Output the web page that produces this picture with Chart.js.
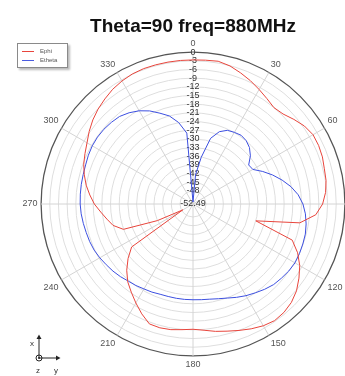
<!DOCTYPE html>
<html>
<head>
<meta charset="utf-8">
<script src="https://cdn.jsdelivr.net/npm/chart.js@4/dist/chart.umd.min.js"></script>
<style>
  body { margin: 0; background: #fff; overflow: hidden; }
  #wrap { position: relative; width: 345px; height: 376px; overflow: hidden; }
  #c { position: absolute; left: 0; top: 0; }
  #legend {
    position: absolute; left: 17px; top: 43px; width: 49px; height: 23px;
    border: 1px solid #8a8a8a; background: #fff; box-shadow: 2px 2px 2px #bbb;
    font: 6px "Liberation Sans", Arial, sans-serif; color: #555;
  }
  #legend div { position: relative; height: 8px; line-height: 8px; padding-left: 22px; margin-top: 3px; }
  #legend div + div { margin-top: 1px; }
  #legend span { position: absolute; left: 4px; top: 4px; width: 12px; height: 1px; }
  #axes { position: absolute; left: 26px; top: 333px; }
</style>
</head>
<body>
<div id="wrap">
  <canvas id="c" width="386" height="376"></canvas>
  <div id="legend">
    <div><span style="background:#e8453c"></span>Ephi</div>
    <div><span style="background:#4a5be0"></span>Etheta</div>
  </div>
  <svg id="axes" width="42" height="42" font-family="Liberation Sans, Arial, sans-serif" font-size="8" fill="#333">
    <line x1="13" y1="25" x2="13" y2="5" stroke="#222" stroke-width="1"/>
    <path d="M10.5 6 L13 1.5 L15.5 6 Z" fill="#222"/>
    <line x1="13" y1="25" x2="31" y2="25" stroke="#222" stroke-width="1"/>
    <path d="M30 22.5 L34.5 25 L30 27.5 Z" fill="#222"/>
    <circle cx="13" cy="25" r="3" fill="none" stroke="#222" stroke-width="1"/>
    <circle cx="13" cy="25" r="1" fill="#222"/>
    <text x="4" y="13">x</text>
    <text x="10" y="40">z</text>
    <text x="28" y="40">y</text>
  </svg>
</div>
<script>
// angle in degrees, 0 at top, clockwise
const angles = [0,5,10,15,20,25,30,35,40,45,50,55,60,65,70,75,80,85,90,95,100,105,110,115,
  120,125,130,135,140,145,150,155,160,165,170,175,180,185,190,195,200,205,210,215,220,225,230,235,
  240,245,250,255,260,265,270,275,280,285,290,295,300,305,310,315,320,325,330,335,340,345,350,355];

// gain in dB
const ephi = [-2.7,-2.6,-2.4,-3.1,-4.3,-5.5,-6.8,-8.0,-9.0,-8.5,-7.0,-5.5,-4.6,-4.6,-4.9,-5.5,-5.8,-6.5,
  -7.7,-9.9,-15.0,-30.0,-16.0,-12.6,-9.9,-7.8,-5.8,-4.4,-3.6,-3.3,-3.9,-4.9,-6.0,-7.0,-7.8,-8.7,
  -9.2,-8.9,-8.4,-8.2,-8.4,-10.6,-13.0,-15.3,-17.4,-20.1,-23.2,-26.6,-48.4,-38.9,-26.9,-23.9,-22.3,-20.5,
  -18.4,-16.7,-15.0,-13.6,-12.3,-11.3,-10.2,-8.7,-7.3,-6.1,-5.1,-4.1,-3.4,-2.9,-2.7,-2.7,-2.7,-2.7];

const etheta = [-51.8,-42.3,-36.1,-29.0,-25.9,-24.4,-23.9,-23.5,-23.9,-24.9,-26.6,-29.0,-28.6,-25.9,-23.2,-20.6,-18.1,-16.0,
  -14.5,-13.5,-12.8,-12.3,-12.1,-11.9,-11.8,-12.1,-12.6,-13.1,-14.0,-15.0,-15.9,-16.9,-17.9,-18.6,-19.1,-19.3,
  -19.4,-19.4,-19.4,-19.4,-19.3,-18.9,-18.6,-18.1,-17.7,-17.0,-16.4,-15.9,-15.3,-14.8,-14.5,-14.3,-14.0,-13.7,
  -13.5,-13.4,-13.3,-13.2,-13.0,-12.6,-12.3,-12.2,-12.3,-12.6,-13.0,-14.0,-15.3,-17.0,-19.1,-21.0,-23.9,-27.9];

const rMin = -52.49;
const rMax = 0;
const rStep = 3;

new Chart(document.getElementById('c'), {
  type: 'radar',
  data: {
    labels: angles,
    datasets: [{
      label: 'Ephi',
      data: ephi,
      borderColor: '#e8453c',
      borderWidth: 1,
      pointRadius: 0,
      fill: false
    }, {
      label: 'Etheta',
      data: etheta,
      borderColor: '#3c4fe0',
      borderWidth: 1,
      pointRadius: 0,
      fill: false
    }]
  },
  options: {
    responsive: false,
    animation: false,
    layout: { padding: { top: 7, bottom: 5, left: 0, right: 0 } },
    plugins: {
      legend: { display: false },
      tooltip: { enabled: false },
      title: {
        display: true,
        text: 'Theta=90 freq=880MHz',
        color: '#111',
        font: { family: '"Liberation Sans", Arial, sans-serif', size: 19, weight: 'bold' },
        padding: { top: 8, bottom: 0 }
      }
    },
    scales: {
      r: {
        min: rMin,
        max: rMax,
        beginAtZero: false,
        startAngle: 0,
        grid: {
          circular: true,
          color: ctx => ctx.tick && ctx.tick.value === rMax ? '#555' : '#dedede',
          lineWidth: ctx => ctx.tick && ctx.tick.value === rMax ? 1.3 : 1
        },
        angleLines: {
          color: ctx => ctx.index % 6 === 0 ? '#d4d4d4' : 'rgba(0,0,0,0)'
        },
        pointLabels: {
          color: '#555',
          padding: -1,
          font: { family: '"Liberation Sans", Arial, sans-serif', size: 9 },
          callback: (label) => label % 30 === 0 ? String(label) : ''
        },
        ticks: {
          stepSize: rStep,
          color: '#333',
          showLabelBackdrop: false,
          backdropPadding: 0,
          font: { family: '"Liberation Sans", Arial, sans-serif', size: 9 },
          callback: v => Math.abs(v - rMin) < 0.001 ? rMin.toFixed(2) : String(Math.round(v))
        }
      }
    }
  }
});
</script>
</body>
</html>
